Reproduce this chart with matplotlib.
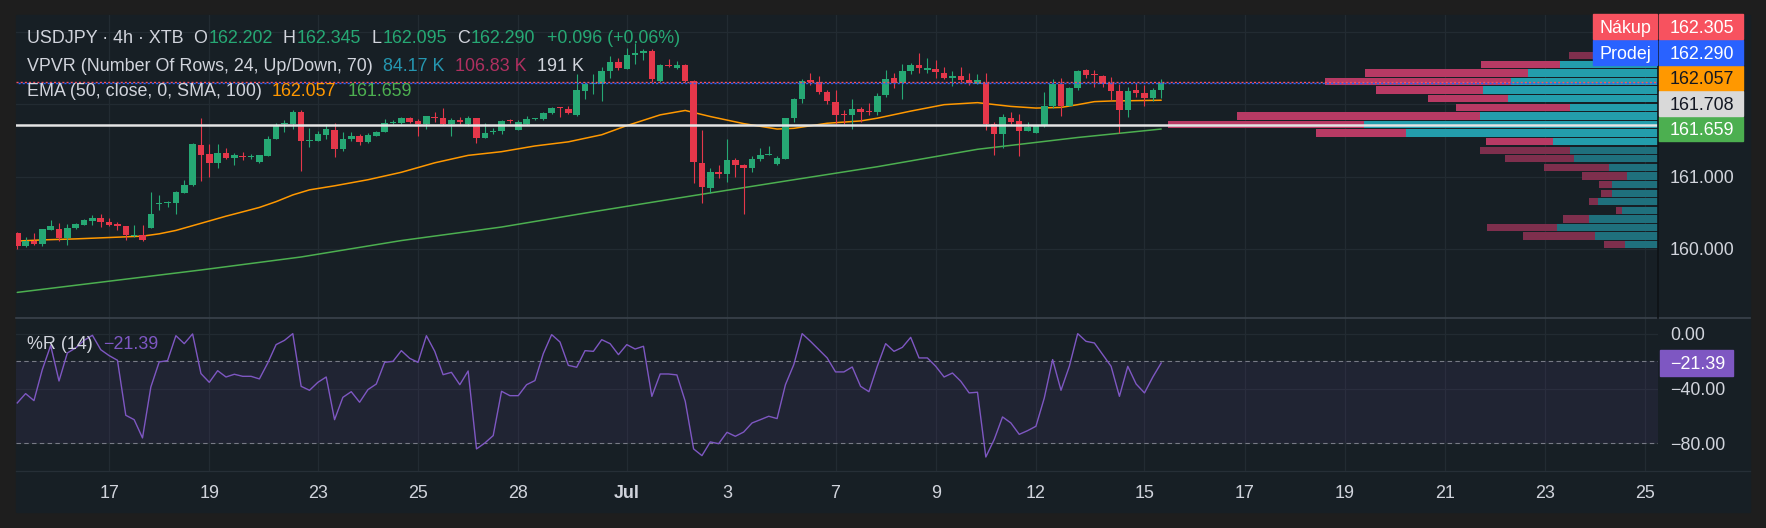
import matplotlib
matplotlib.use('Agg')
import matplotlib.pyplot as plt
from matplotlib.patches import Rectangle
from matplotlib.lines import Line2D

plt.rcParams['font.family'] = ['Liberation Sans', 'DejaVu Sans']

# ---------------- data ----------------
opens = [160.220, 160.047, 160.117, 160.070, 160.266, 160.276, 160.154, 160.294, 160.336, 160.393,
         160.435, 160.369, 160.346, 160.313, 160.178, 160.187, 160.294, 160.626, 160.640, 160.640,
         160.781, 160.879, 161.444, 161.318, 161.192, 161.332, 161.262, 161.285, 161.267, 161.206,
         161.290, 161.528, 161.725, 161.729, 161.893, 161.496, 161.496, 161.575, 161.640, 161.388,
         161.524, 161.556, 161.481, 161.566, 161.622, 161.743, 161.748, 161.813, 161.767, 161.729,
         161.827, 161.809, 161.734, 161.785, 161.729, 161.809, 161.542, 161.612, 161.626, 161.781,
         161.650, 161.729, 161.795, 161.795, 161.874, 161.953, 161.935, 161.851, 162.187, 162.276,
         162.285, 162.463, 162.580, 162.491, 162.678, 162.706, 162.734, 162.323, 162.533, 162.505,
         162.538, 162.327, 161.192, 160.837, 161.070, 161.038, 161.234, 161.164, 161.117, 161.243,
         161.299, 161.173, 161.243, 161.809, 162.070, 162.332, 162.304, 162.178, 162.033, 161.865,
         161.860, 161.940, 161.897, 161.893, 162.126, 162.369, 162.299, 162.468, 162.538, 162.482,
         162.496, 162.439, 162.365, 162.397, 162.341, 162.285, 162.299, 161.734, 161.584, 161.809,
         161.767, 161.636, 161.608, 161.697, 161.977, 162.276, 161.981, 162.225, 162.472, 162.411,
         162.397, 162.290, 162.187, 161.921, 162.192, 162.159, 162.094, 162.202]
highs = [160.234, 160.164, 160.220, 160.280, 160.397, 160.360, 160.350, 160.360, 160.420, 160.467,
         160.486, 160.430, 160.374, 160.322, 160.327, 160.336, 160.785, 160.753, 160.664, 160.809,
         160.958, 161.463, 161.813, 161.458, 161.458, 161.402, 161.332, 161.346, 161.309, 161.299,
         161.566, 161.739, 161.785, 161.916, 161.925, 161.673, 161.636, 161.729, 161.739, 161.612,
         161.612, 161.589, 161.598, 161.631, 161.799, 161.790, 161.827, 161.832, 161.799, 161.846,
         161.893, 161.953, 161.809, 161.823, 161.837, 161.818, 161.739, 161.678, 161.785, 161.795,
         161.790, 161.837, 161.818, 161.897, 161.968, 161.968, 161.977, 162.421, 162.309, 162.421,
         162.514, 162.664, 162.640, 162.781, 162.851, 162.767, 162.767, 162.556, 162.626, 162.598,
         162.556, 162.332, 161.645, 161.122, 161.168, 161.519, 161.257, 161.178, 161.285, 161.393,
         161.421, 161.281, 161.818, 162.094, 162.346, 162.430, 162.388, 162.192, 162.192, 161.925,
         162.080, 161.963, 162.024, 162.159, 162.472, 162.430, 162.556, 162.570, 162.711, 162.640,
         162.612, 162.514, 162.458, 162.514, 162.430, 162.416, 162.430, 161.753, 161.869, 161.897,
         161.869, 161.757, 161.706, 162.178, 162.346, 162.360, 162.239, 162.477, 162.491, 162.472,
         162.411, 162.383, 162.276, 162.243, 162.290, 162.262, 162.229, 162.345]
lows = [160.000, 160.033, 160.061, 160.042, 160.257, 160.108, 160.056, 160.276, 160.327, 160.332,
        160.304, 160.318, 160.266, 160.126, 160.164, 160.117, 160.285, 160.538, 160.584, 160.481,
        160.771, 160.865, 160.935, 160.991, 161.122, 161.239, 161.159, 161.225, 161.239, 161.192,
        161.285, 161.519, 161.622, 161.664, 161.075, 161.416, 161.491, 161.519, 161.271, 161.351,
        161.491, 161.435, 161.472, 161.556, 161.612, 161.725, 161.729, 161.739, 161.566, 161.659,
        161.762, 161.711, 161.566, 161.734, 161.706, 161.460, 161.533, 161.589, 161.584, 161.739,
        161.640, 161.725, 161.781, 161.785, 161.869, 161.823, 161.869, 161.846, 162.070, 162.140,
        162.042, 162.360, 162.477, 162.486, 162.561, 162.617, 162.313, 162.313, 162.514, 162.491,
        162.313, 160.907, 160.640, 160.771, 160.977, 160.921, 160.991, 160.486, 161.061, 161.215,
        161.295, 161.168, 161.239, 161.762, 162.024, 162.267, 162.150, 162.010, 161.729, 161.729,
        161.659, 161.762, 161.855, 161.855, 162.103, 162.220, 162.080, 162.421, 162.430, 162.435,
        162.360, 162.346, 162.248, 162.313, 162.262, 162.281, 161.650, 161.299, 161.402, 161.729,
        161.285, 161.631, 161.603, 161.692, 161.949, 161.841, 161.977, 162.197, 162.365, 162.234,
        162.234, 162.056, 161.603, 161.832, 162.108, 161.972, 162.047, 162.095]
closes = [160.047, 160.117, 160.070, 160.271, 160.322, 160.154, 160.294, 160.341, 160.397, 160.435,
          160.374, 160.336, 160.322, 160.187, 160.187, 160.126, 160.481, 160.636, 160.650, 160.785,
          160.888, 161.449, 161.299, 161.192, 161.332, 161.257, 161.295, 161.271, 161.285, 161.295,
          161.528, 161.711, 161.739, 161.893, 161.496, 161.510, 161.584, 161.659, 161.388, 161.528,
          161.561, 161.481, 161.570, 161.617, 161.739, 161.762, 161.813, 161.762, 161.729, 161.837,
          161.818, 161.729, 161.785, 161.753, 161.809, 161.542, 161.598, 161.631, 161.767, 161.767,
          161.753, 161.795, 161.809, 161.879, 161.949, 161.944, 161.879, 162.192, 162.285, 162.285,
          162.468, 162.580, 162.505, 162.678, 162.711, 162.739, 162.351, 162.538, 162.524, 162.538,
          162.323, 161.206, 160.855, 161.066, 161.038, 161.234, 161.164, 161.122, 161.248, 161.304,
          161.304, 161.262, 161.809, 162.075, 162.327, 162.313, 162.168, 162.047, 161.860, 161.855,
          161.935, 161.888, 161.888, 162.117, 162.355, 162.299, 162.468, 162.538, 162.505, 162.510,
          162.449, 162.365, 162.397, 162.337, 162.290, 162.341, 161.734, 161.584, 161.823, 161.762,
          161.636, 161.692, 161.697, 161.977, 162.276, 161.977, 162.229, 162.468, 162.407, 162.402,
          162.285, 162.182, 161.921, 162.187, 162.154, 162.084, 162.201, 162.290]

ema_idx = [0, 3, 7, 11, 15, 17, 19, 23, 25, 27, 29, 31, 33, 35, 38, 42, 46, 50, 54, 58, 62, 66,
           70, 73, 77, 80, 83, 87, 91, 93, 97, 101, 103, 107, 111, 115, 119, 122, 125, 127, 129, 131, 137]
ema_val = [160.110, 160.126, 160.140, 160.159, 160.178, 160.210, 160.257, 160.388, 160.454, 160.514,
           160.575, 160.655, 160.748, 160.818, 160.874, 160.958, 161.061, 161.192, 161.295, 161.346,
           161.425, 161.482, 161.580, 161.706, 161.855, 161.916, 161.832, 161.734, 161.659, 161.669,
           161.739, 161.771, 161.809, 161.907, 161.996, 162.024, 161.972, 161.949, 161.958, 161.996,
           162.038, 162.047, 162.057]
sma_idx = [0, 22, 34, 46, 58, 69, 81, 93, 103, 115, 127, 137]
sma_val = [159.400, 159.710, 159.890, 160.117, 160.304, 160.516, 160.739, 160.958, 161.138, 161.379,
           161.542, 161.659]

wr_vals = [-50.5, -43.7, -48.8, -26.2, -8.7, -34.5, -14.1, -10.4, -4.9, -1.2,
           -11.7, -16.0, -19.4, -59.5, -62.7, -76.0, -38.9, -20.6, -19.7, -1.5,
           -7.3, -0.2, -29.1, -35.5, -27.0, -31.6, -29.6, -31.1, -31.1, -33.0,
           -21.4, -8.0, -4.9, 0.0, -38.4, -41.3, -35.5, -31.6, -62.7, -46.4,
           -42.3, -50.0, -40.8, -36.7, -20.9, -20.2, -12.4, -18.0, -20.9, -1.5,
           -12.9, -29.9, -28.2, -37.2, -27.2, -84.0, -79.7, -74.3, -42.0, -45.2,
           -45.2, -37.2, -34.2, -14.6, -0.7, -6.1, -23.1, -24.5, -12.4, -12.9,
           -4.4, -7.3, -15.3, -8.0, -11.2, -9.2, -45.7, -29.4, -29.4, -30.1,
           -49.3, -84.0, -88.9, -78.9, -80.2, -71.9, -74.8, -71.7, -65.1, -62.7,
           -60.2, -61.9, -37.2, -22.6, 0.0, -5.6, -11.7, -17.7, -27.9, -27.9,
           -24.3, -38.4, -42.3, -23.8, -7.3, -12.9, -10.0, -2.7, -17.7, -17.7,
           -23.8, -31.6, -28.7, -34.7, -43.2, -42.7, -89.9, -77.2, -60.7, -65.1,
           -73.4, -70.7, -67.5, -46.9, -18.9, -41.3, -23.8, 0.0, -5.6, -6.8,
           -15.3, -23.8, -45.7, -23.8, -36.7, -43.2, -31.6, -21.39]

tick_idx = [11, 23, 36, 48, 60, 73, 85, 98, 110, 122, 135, 147, 159, 171, 183, 195]
tick_labels = ['17', '19', '23', '25', '28', 'Jul', '3', '7', '9', '12', '15', '17', '19', '21', '23', '25']

# volume profile rows (bottom -> top), relative volumes
vp_up = [33, 63, 101, 69, 36, 60, 46, 46, 31, 49, 84, 88, 105, 252, 294, 178, 88, 150, 175, 147, 130, 98, 50, 30]
vp_down = [21, 72, 70, 26, 6, 9, 11, 13, 45, 65, 69, 90, 67, 90, 196, 243, 114, 80, 107, 186, 163, 79, 39, 25]
va_rows = (12, 21)

ask_price = 162.305
bid_price = 162.290
ema_last = 162.057
hline_price = 161.708
sma_last = 161.659
wr_last = -21.39
price_grid = [160.0, 161.0, 162.0, 163.0]
wr_grid = [0.0, -40.0, -80.0]
header_change = '+0.096 (+0.06%)'
vp_legend = ['84.17 K', '106.83 K', '191 K']

# ---------------- style ----------------
W, H = 1766, 528
FIG_BG = '#1e1e1e'
BG = '#171f25'
GRID = '#222b32'
TXT = '#d1d4dc'
UP = '#26a874'
DN = '#e5374a'
ORANGE = '#ff9800'
SMA_C = '#4caf50'
PURPLE = '#7e57c2'
TEAL_B, TEAL_D = '#239dac', '#1f707d'
PINK_B, PINK_D = '#b83a64', '#7e2f4d'
FS = 12.9
CAP = 0.716 * FS * 100 / 72.0  # cap height in px

fig = plt.figure(figsize=(W / 100, H / 100), dpi=100)
fig.patch.set_facecolor(FIG_BG)
fig.patches.append(Rectangle((16 / W, 1 - 512 / H), (1750 - 16) / W, (512 - 15) / H,
                             transform=fig.transFigure, color=BG, zorder=-5))

L, R = 16, 1658
ax = fig.add_axes([L / W, 1 - 318 / H, (R - L) / W, (318 - 15) / H])
ax2 = fig.add_axes([L / W, 1 - 471 / H, (R - L) / W, (471 - 318) / H])
for a in (ax, ax2):
    a.set_facecolor('none')
    a.set_zorder(1)
    for s in a.spines.values():
        s.set_visible(False)
    a.set_xticks([])
    a.set_yticks([])
    a.set_xlim(-0.15, 196.5)
ax.set_ylim(159.046, 163.236)
ax2.set_ylim(-100.1, 11.4)

# grid
for t in tick_idx:
    ax.axvline(t, color=GRID, lw=0.9, zorder=0.5)
    ax2.axvline(t, color=GRID, lw=0.9, zorder=0.5)
for p in price_grid:
    ax.axhline(p, color=GRID, lw=0.9, zorder=0.5)
for v in wr_grid:
    ax2.axhline(v, color=GRID, lw=0.9, zorder=0.5)

# volume profile
n_rows = len(vp_up)
lo, hi = min(lows), max(highs)
row_h = (hi - lo) / n_rows
gap = 1.3 / 72.3
max_tot = max(u + d for u, d in zip(vp_up, vp_down))
yax = ax.get_yaxis_transform()
for k in range(n_rows):
    inside = va_rows[0] <= k <= va_rows[1]
    wu = vp_up[k] / max_tot * 0.2984
    wd = vp_down[k] / max_tot * 0.2984
    yb = lo + k * row_h + gap / 2
    ax.add_patch(Rectangle((1 - wu, yb), wu, row_h - gap, transform=yax,
                           color=TEAL_B if inside else TEAL_D, lw=0, zorder=1.5))
    ax.add_patch(Rectangle((1 - wu - wd, yb), wd, row_h - gap, transform=yax,
                           color=PINK_B if inside else PINK_D, lw=0, zorder=1.5))

# moving averages
ax.plot(sma_idx, sma_val, color=SMA_C, lw=1.1, zorder=2, solid_capstyle='round')
ax.plot(ema_idx, ema_val, color=ORANGE, lw=1.1, zorder=2, solid_capstyle='round')

# candles
for i, (o, h, l, c) in enumerate(zip(opens, highs, lows, closes)):
    col = UP if c >= o else DN
    ax.vlines(i, l, h, color=col, lw=0.8, zorder=3)
    bot = min(o, c)
    ht = max(abs(c - o), 0.014)
    ax.add_patch(Rectangle((i - 0.39, bot), 0.78, ht, color=col, lw=0, zorder=4))

# price lines
ax.axhline(ask_price, color='#f7525f', lw=1.0, ls=(0, (1.5, 1.5)), zorder=5)
ax.axhline(bid_price, color='#2962ff', lw=1.0, ls=(1.5, (1.5, 1.5)), zorder=5)
ax.axhline(hline_price, color='#e4e4e4', lw=1.8, zorder=6)

# %R pane
ax2.axhspan(-80, -20, color=PURPLE, alpha=0.09, lw=0, zorder=0.6)
ax2.axhline(-20, color='#787b86', lw=0.8, ls=(0, (4, 3)), zorder=1)
ax2.axhline(-80, color='#787b86', lw=0.8, ls=(0, (4, 3)), zorder=1)
ax2.plot(range(len(wr_vals)), wr_vals, color=PURPLE, lw=1.0, zorder=3)

# separators
fig.lines.append(Line2D([16 / W, 1750 / W], [1 - 318 / H] * 2, transform=fig.transFigure,
                        color='#3a434c', lw=1.2, zorder=3))
fig.lines.append(Line2D([16 / W, 1750 / W], [1 - 471 / H] * 2, transform=fig.transFigure,
                        color='#262f37', lw=0.9, zorder=3))
fig.lines.append(Line2D([1658 / W] * 2, [1 - 318 / H, 1 - 15 / H], transform=fig.transFigure,
                        color='#0e1216', lw=1.2, zorder=3))


def ydisp(a, v):
    return a.transData.transform((0, v))[1]


def xdisp(a, v):
    return a.transData.transform((v, 0))[0]


def ftext(xp, yc, s, color, ha='left', weight='normal', z=6):
    # xp: display px from left, yc: display px (from bottom) of cap centre
    return fig.text(xp / W, (yc - CAP / 2) / H, s, color=color, fontsize=FS, ha=ha,
                    va='baseline', fontweight=weight, zorder=z)


renderer = fig.canvas.get_renderer()


def chain(x0, yc_top, pieces):
    x = x0
    for s, col, g in pieces:
        t = ftext(x, H - yc_top, s, col)
        bb = t.get_window_extent(renderer=renderer)
        x = bb.x1 + g


# header legends
chain(27, 37, [('USDJPY · 4h · XTB', TXT, 10), ('O', TXT, 1), (f'{opens[-1]:.3f}', UP, 10),
               ('H', TXT, 1), (f'{highs[-1]:.3f}', UP, 10), ('L', TXT, 1), (f'{lows[-1]:.3f}', UP, 10),
               ('C', TXT, 1), (f'{closes[-1]:.3f}', UP, 12), (header_change, UP, 0)])
chain(27, 64.5, [('VPVR (Number Of Rows, 24, Up/Down, 70)', TXT, 10), (vp_legend[0], '#2596b0', 11),
                 (vp_legend[1], '#b03060', 10), (vp_legend[2], TXT, 0)])
chain(27, 90, [('EMA (50, close, 0, SMA, 100)', TXT, 10), (f'{ema_last:.3f}', ORANGE, 11),
               (f'{sma_last:.3f}', SMA_C, 0)])
chain(27, 342.5, [('%R (14)', TXT, 10), (f'{wr_last:.2f}'.replace('-', '\u2212'), PURPLE, 0)])

# price badges (stacked upward to avoid overlap)
badges = [(sma_last, SMA_C, 'white'), (hline_price, '#d9d9d9', '#131722'),
          (ema_last, ORANGE, '#131722'), (bid_price, '#2962ff', 'white'), (ask_price, '#f7525f', 'white')]
BH, BSP = 24.6, 25.6
pos = []
for j, (p, bc, tc) in enumerate(badges):
    yc = ydisp(ax, p)
    if j > 0:
        yc = max(yc, pos[-1] + BSP)
    pos.append(yc)
for (p, bc, tc), yc in zip(badges, pos):
    fig.patches.append(Rectangle((1659 / W, (yc - BH / 2) / H), 84 / W, BH / H,
                                 transform=fig.transFigure, color=bc, zorder=5))
    ftext(1670, yc, f'{p:.3f}', tc)
side = {ask_price: ('Nákup', '#f7525f'), bid_price: ('Prodej', '#2962ff')}
for (p, bc, tc), yc in zip(badges, pos):
    if p in side:
        lab, colr = side[p]
        fig.patches.append(Rectangle((1593 / W, (yc - BH / 2) / H), 64 / W, BH / H,
                                     transform=fig.transFigure, color=colr, zorder=5))
        ftext(1625, yc, lab, 'white', ha='center')

# price axis labels
for p in price_grid:
    yc = ydisp(ax, p)
    if yc > ydisp(ax, ax.get_ylim()[1]) - 8 or any(abs(yc - b) < 20 for b in pos):
        continue
    ftext(1670, yc, f'{p:.3f}', TXT)

# %R badge and labels
ywr = ydisp(ax2, wr_last)
fig.patches.append(Rectangle((1660 / W, (ywr - 13) / H), 73 / W, 26 / H,
                             transform=fig.transFigure, color=PURPLE, zorder=5))
ftext(1670, ywr, f'{wr_last:.2f}'.replace('-', '\u2212'), 'white')
for v in wr_grid:
    yc = ydisp(ax2, v)
    if abs(yc - ywr) < 20:
        continue
    ftext(1670, yc, f'{v:.2f}'.replace('-', '\u2212') if v < 0 else f'{abs(v):.2f}', TXT)

# time axis labels
for t_i, lab in zip(tick_idx, tick_labels):
    ftext(xdisp(ax2, t_i), H - 492, lab, TXT, ha='center',
          weight='bold' if not lab.isdigit() else 'normal')

fig.savefig('out.png', dpi=100, facecolor=FIG_BG)
